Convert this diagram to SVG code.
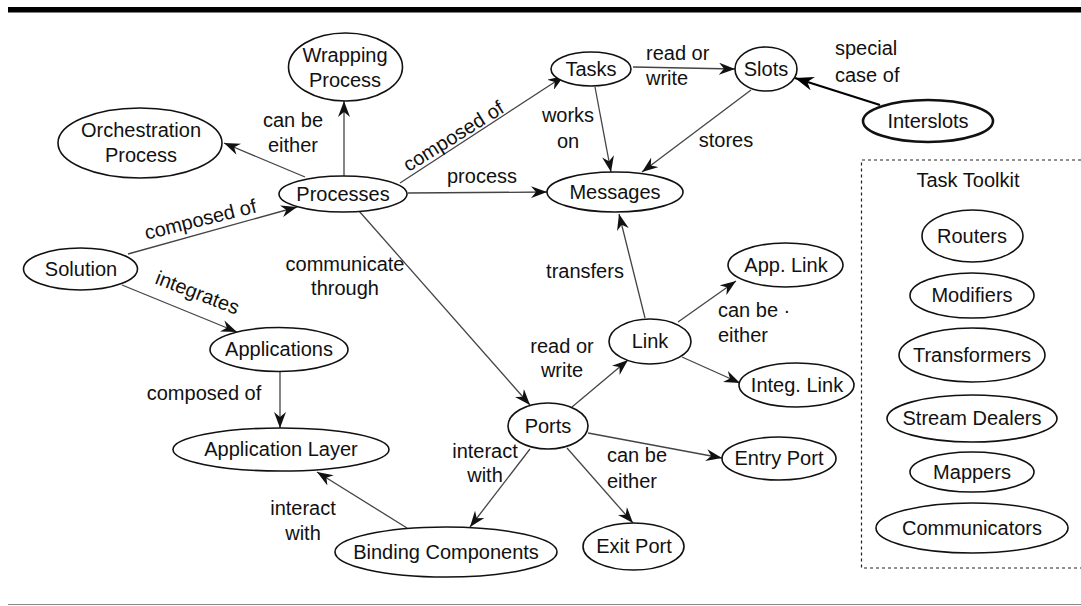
<svg xmlns="http://www.w3.org/2000/svg" width="1081" height="606" viewBox="0 0 1081 606">
  <defs>
    <style>
      .t { font-family: "Liberation Sans", Arial, sans-serif; font-size: 20px; fill: #111; }
      .m { text-anchor: middle; }
      .node ellipse { fill: #fff; stroke: #111; stroke-width: 1.6; }
      .edges line { stroke: #444; stroke-width: 1.3; marker-end: url(#arrow); }
    </style>
    <marker id="arrow" viewBox="0 0 16 12" markerUnits="userSpaceOnUse" markerWidth="16" markerHeight="12" refX="16" refY="6" orient="auto">
      <path d="M0,0 L16,6 L0,12 L5,6 Z" fill="#111"/>
    </marker>
    <marker id="arrowBig" viewBox="0 0 16 12" markerUnits="userSpaceOnUse" markerWidth="19" markerHeight="14" refX="16" refY="6" orient="auto">
      <path d="M0,0 L16,6 L0,12 L5,6 Z" fill="#000"/>
    </marker>
  </defs>

  <rect width="1081" height="606" fill="#fff"/>
  <!-- page rules -->
  <rect x="8" y="7" width="1073" height="5.5" fill="#000"/>
  <line x1="8" y1="604.5" x2="1081" y2="604.5" stroke="#888" stroke-width="1.2"/>

  <!-- connectors -->
  <g id="connectors" class="edges">
    <line x1="305" y1="177" x2="224" y2="143"/>
    <line x1="344" y1="176" x2="344" y2="101"/>
    <line x1="128" y1="254" x2="297" y2="207"/>
    <line x1="122" y1="285" x2="237" y2="332"/>
    <line x1="280" y1="372" x2="280" y2="428"/>
    <line x1="359" y1="211" x2="530" y2="405"/>
    <line x1="400" y1="183" x2="564" y2="76"/>
    <line x1="408" y1="193" x2="547" y2="192"/>
    <line x1="633" y1="67" x2="735" y2="69"/>
    <line x1="595" y1="87" x2="611" y2="172"/>
    <line x1="751" y1="90" x2="642" y2="172"/>
    <line x1="880" y1="105" x2="795" y2="78" style="stroke:#000;stroke-width:2.2;marker-end:url(#arrowBig)"/>
    <line x1="645" y1="318" x2="619" y2="214"/>
    <line x1="678" y1="322" x2="736" y2="281"/>
    <line x1="682" y1="357" x2="740" y2="383"/>
    <line x1="572" y1="407" x2="628" y2="360"/>
    <line x1="588" y1="433" x2="722" y2="458"/>
    <line x1="567" y1="448" x2="633" y2="523"/>
    <line x1="530" y1="449" x2="470" y2="527"/>
    <line x1="407" y1="528" x2="317" y2="472"/>
  </g>

  <!-- connector labels -->
  <g id="labels" class="t">
    <text class="m" x="293" y="127">can be</text>
    <text class="m" x="293" y="152">either</text>
    <text class="m" x="202" y="226" transform="rotate(-14 202 226)">composed of</text>
    <text class="m" x="195" y="299" transform="rotate(21 195 299)">integrates</text>
    <text class="m" x="204" y="400">composed of</text>
    <text class="m" x="345" y="271">communicate</text>
    <text class="m" x="345" y="295">through</text>
    <text class="m" x="457" y="142" transform="rotate(-32 457 142)">composed of</text>
    <text class="m" x="482" y="183">process</text>
    <text x="646" y="60">read or</text>
    <text x="646" y="85">write</text>
    <text class="m" x="568" y="122">works</text>
    <text class="m" x="568" y="148">on</text>
    <text class="m" x="726" y="147">stores</text>
    <text x="835" y="55">special</text>
    <text x="835" y="82">case of</text>
    <text class="m" x="585" y="278">transfers</text>
    <text x="718" y="317">can be ·</text>
    <text x="718" y="342">either</text>
    <text class="m" x="562" y="353">read or</text>
    <text class="m" x="562" y="377">write</text>
    <text class="m" x="485" y="458">interact</text>
    <text class="m" x="485" y="482">with</text>
    <text class="m" x="303" y="515">interact</text>
    <text class="m" x="303" y="540">with</text>
    <text x="607" y="462">can be</text>
    <text x="607" y="488">either</text>
  </g>

  <!-- nodes -->
  <g id="wrapping-process" class="node">
    <ellipse cx="345.5" cy="67" rx="57" ry="34"/>
    <text class="t m" x="345" y="62">Wrapping</text>
    <text class="t m" x="345" y="87">Process</text>
  </g>
  <g id="orchestration-process" class="node">
    <ellipse cx="140" cy="143" rx="82" ry="35"/>
    <text class="t m" x="141" y="137">Orchestration</text>
    <text class="t m" x="141" y="162">Process</text>
  </g>
  <g id="processes" class="node">
    <ellipse cx="343" cy="194" rx="64" ry="18"/>
    <text class="t m" x="343" y="201">Processes</text>
  </g>
  <g id="solution" class="node">
    <ellipse cx="80.5" cy="269" rx="57" ry="21"/>
    <text class="t m" x="81" y="276">Solution</text>
  </g>
  <g id="applications" class="node">
    <ellipse cx="279" cy="349.5" rx="69" ry="22"/>
    <text class="t m" x="279" y="356">Applications</text>
  </g>
  <g id="application-layer" class="node">
    <ellipse cx="281" cy="449.5" rx="108" ry="21.5"/>
    <text class="t m" x="281" y="456">Application Layer</text>
  </g>
  <g id="tasks" class="node">
    <ellipse cx="591" cy="69" rx="40" ry="17"/>
    <text class="t m" x="591" y="76">Tasks</text>
  </g>
  <g id="slots" class="node">
    <ellipse cx="766" cy="69" rx="31" ry="22"/>
    <text class="t m" x="766" y="76">Slots</text>
  </g>
  <g id="interslots" class="node">
    <ellipse cx="928" cy="121" rx="65" ry="21" style="stroke-width:2.6"/>
    <text class="t m" x="928" y="128">Interslots</text>
  </g>
  <g id="messages" class="node">
    <ellipse cx="615" cy="192" rx="68" ry="20"/>
    <text class="t m" x="615" y="199">Messages</text>
  </g>
  <g id="link" class="node">
    <ellipse cx="650" cy="341.5" rx="41" ry="22.5"/>
    <text class="t m" x="650" y="348">Link</text>
  </g>
  <g id="app-link" class="node">
    <ellipse cx="785.5" cy="265" rx="57.5" ry="22"/>
    <text class="t m" x="786" y="272">App. Link</text>
  </g>
  <g id="integ-link" class="node">
    <ellipse cx="796.5" cy="385" rx="57.5" ry="22"/>
    <text class="t m" x="797" y="392">Integ. Link</text>
  </g>
  <g id="ports" class="node">
    <ellipse cx="548" cy="426" rx="40" ry="23"/>
    <text class="t m" x="548" y="433">Ports</text>
  </g>
  <g id="entry-port" class="node">
    <ellipse cx="779" cy="458.5" rx="57" ry="21.5"/>
    <text class="t m" x="779" y="465">Entry Port</text>
  </g>
  <g id="exit-port" class="node">
    <ellipse cx="633.5" cy="546.5" rx="50.5" ry="23.5"/>
    <text class="t m" x="634" y="553">Exit Port</text>
  </g>
  <g id="binding-components" class="node">
    <ellipse cx="446" cy="552" rx="111" ry="25"/>
    <text class="t m" x="446" y="559">Binding Components</text>
  </g>

  <!-- task toolkit panel -->
  <g id="task-toolkit">
    <path d="M1081,160 H861.5 V568 H1081" fill="none" stroke="#222" stroke-width="1.2" stroke-dasharray="3 3"/>
    <text class="t m" x="968" y="187">Task Toolkit</text>
  </g>
  <g id="routers" class="node">
    <ellipse cx="972.5" cy="236" rx="50.5" ry="26"/>
    <text class="t m" x="972" y="243">Routers</text>
  </g>
  <g id="modifiers" class="node">
    <ellipse cx="972" cy="295.5" rx="62" ry="22.5"/>
    <text class="t m" x="972" y="302">Modifiers</text>
  </g>
  <g id="transformers" class="node">
    <ellipse cx="972" cy="355" rx="73" ry="27"/>
    <text class="t m" x="972" y="362">Transformers</text>
  </g>
  <g id="stream-dealers" class="node">
    <ellipse cx="972" cy="418.5" rx="85" ry="23.5"/>
    <text class="t m" x="972" y="425">Stream Dealers</text>
  </g>
  <g id="mappers" class="node">
    <ellipse cx="972" cy="472" rx="62" ry="20"/>
    <text class="t m" x="972" y="479">Mappers</text>
  </g>
  <g id="communicators" class="node">
    <ellipse cx="972" cy="528" rx="96" ry="25"/>
    <text class="t m" x="972" y="535">Communicators</text>
  </g>
</svg>
